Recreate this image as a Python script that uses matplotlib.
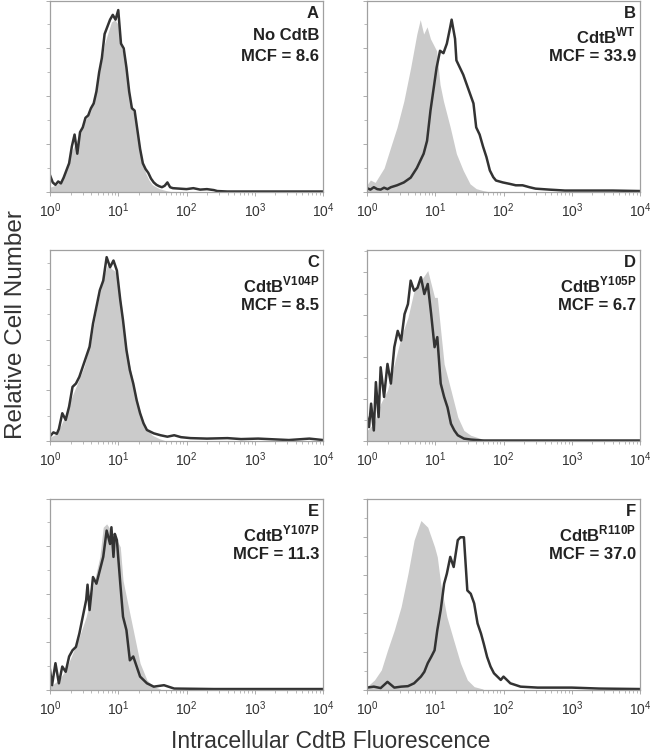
import numpy as np
import matplotlib
matplotlib.use("Agg")
import matplotlib.pyplot as plt
from matplotlib.ticker import FixedLocator, LogLocator, NullFormatter

plt.rcParams['font.family'] = ['Liberation Sans', 'DejaVu Sans']
plt.rcParams['mathtext.fontset'] = 'custom'
plt.rcParams['mathtext.rm'] = 'Liberation Sans'
plt.rcParams['mathtext.bf'] = 'Liberation Sans:bold'

# values are log10(fluorescence) and relative cell number (arbitrary units)
# panel A - No CdtB
a_gray_x = [0.00, 0.10, 0.20, 0.30, 0.40, 0.50, 0.60, 0.70, 0.80, 0.90, 0.95, 1.00, 1.05, 1.10, 1.15, 1.20,
            1.25, 1.30, 1.35, 1.40, 1.45, 1.50, 1.60, 1.70, 1.80]
a_gray_y = [0.10, 0.15, 0.30, 0.80, 1.10, 1.45, 1.70, 2.30, 3.10, 3.55, 3.60, 3.50, 3.00, 2.80, 2.20, 1.75,
            1.55, 1.10, 0.70, 0.40, 0.25, 0.15, 0.07, 0.03, 0.00]
a_black_x = [0.00, 0.04, 0.08, 0.12, 0.16, 0.20, 0.24, 0.28, 0.32, 0.36, 0.40, 0.44, 0.48, 0.52, 0.56, 0.60,
             0.64, 0.68, 0.72, 0.76, 0.80, 0.84, 0.88, 0.92, 0.96, 1.00, 1.04, 1.08, 1.12, 1.16, 1.20, 1.24,
             1.28, 1.32, 1.36, 1.40, 1.44, 1.48, 1.52, 1.56, 1.60, 1.64, 1.68, 1.72, 1.76, 1.80, 1.90, 2.00,
             2.10, 2.20, 2.30, 2.40, 2.45, 2.60, 4.00]
a_black_y = [0.35, 0.20, 0.15, 0.22, 0.18, 0.30, 0.45, 0.60, 0.95, 1.20, 0.80, 1.25, 1.35, 1.55, 1.60, 1.75,
             1.85, 2.10, 2.50, 2.80, 3.30, 3.45, 3.60, 3.70, 3.60, 3.80, 3.10, 3.00, 2.60, 2.10, 1.75, 1.70,
             1.30, 0.90, 0.60, 0.48, 0.40, 0.28, 0.20, 0.15, 0.12, 0.10, 0.13, 0.20, 0.10, 0.08, 0.07, 0.06,
             0.08, 0.05, 0.06, 0.04, 0.02, 0.01, 0.01]

# panel B - CdtB WT
b_gray_x = [0.00, 0.05, 0.12, 0.25, 0.35, 0.44, 0.54, 0.64, 0.73, 0.78, 0.83, 0.88, 0.93, 1.02, 1.07, 1.12,
            1.22, 1.31, 1.41, 1.51, 1.60, 1.70, 1.80]
b_gray_y = [0.15, 0.25, 0.20, 0.50, 0.95, 1.35, 1.90, 2.60, 3.30, 3.60, 3.30, 3.45, 3.20, 2.95, 2.25, 1.90,
            1.35, 0.80, 0.45, 0.17, 0.07, 0.03, 0.00]
b_black_x = [0.00, 0.05, 0.10, 0.15, 0.20, 0.25, 0.30, 0.35, 0.44, 0.54, 0.64, 0.73, 0.83, 0.88, 0.93, 0.98,
             1.02, 1.07, 1.12, 1.17, 1.22, 1.24, 1.29, 1.31, 1.36, 1.41, 1.46, 1.51, 1.56, 1.60, 1.65, 1.70,
             1.75, 1.80, 1.85, 1.89, 1.99, 2.09, 2.18, 2.28, 2.38, 2.47, 2.67, 2.90, 3.60, 4.00]
b_black_y = [0.08, 0.05, 0.10, 0.06, 0.05, 0.09, 0.06, 0.10, 0.14, 0.20, 0.30, 0.50, 0.80, 1.07, 1.70, 2.20,
             2.60, 2.95, 2.90, 3.10, 3.45, 3.60, 3.20, 2.75, 2.60, 2.45, 2.25, 2.05, 1.85, 1.35, 1.20, 0.95,
             0.73, 0.45, 0.31, 0.24, 0.20, 0.17, 0.14, 0.14, 0.10, 0.07, 0.05, 0.03, 0.03, 0.02]

# panel C - CdtB V104P
c_gray_x = [0.00, 0.10, 0.20, 0.30, 0.40, 0.50, 0.60, 0.70, 0.80, 0.85, 0.90, 0.95, 1.00, 1.05, 1.10, 1.15,
            1.20, 1.30, 1.40, 1.50, 1.60, 1.70]
c_gray_y = [0.08, 0.15, 0.45, 0.85, 1.20, 1.55, 2.10, 2.90, 3.50, 3.70, 3.60, 3.55, 3.30, 2.80, 2.15, 1.70,
            1.35, 0.70, 0.28, 0.12, 0.05, 0.00]
c_black_x = [0.00, 0.05, 0.10, 0.13, 0.18, 0.23, 0.28, 0.33, 0.38, 0.43, 0.48, 0.53, 0.58, 0.63, 0.68, 0.73,
             0.78, 0.83, 0.88, 0.93, 0.98, 1.03, 1.07, 1.12, 1.17, 1.22, 1.27, 1.32, 1.37, 1.42, 1.52, 1.62,
             1.72, 1.82, 1.92, 2.06, 2.30, 2.60, 2.80, 3.05, 3.50, 3.80, 4.00]
c_black_y = [0.10, 0.18, 0.15, 0.25, 0.58, 0.44, 0.72, 1.13, 1.20, 1.34, 1.55, 1.76, 1.97, 2.45, 2.80, 3.15,
             3.35, 3.84, 3.63, 3.77, 3.56, 2.94, 2.52, 1.90, 1.48, 1.20, 0.85, 0.58, 0.37, 0.23, 0.16, 0.12,
             0.09, 0.12, 0.08, 0.06, 0.05, 0.06, 0.04, 0.05, 0.02, 0.05, 0.02]

# panel D - CdtB Y105P
d_gray_x = [0.00, 0.10, 0.20, 0.30, 0.40, 0.50, 0.60, 0.69, 0.79, 0.89, 0.99, 1.03, 1.08, 1.13, 1.23, 1.33,
            1.42, 1.52, 1.67, 1.80]
d_gray_y = [0.22, 0.36, 0.78, 1.06, 1.61, 2.17, 2.58, 3.14, 3.35, 3.56, 3.00, 3.00, 2.30, 1.61, 1.06, 0.50,
            0.22, 0.12, 0.05, 0.00]
d_black_x = [0.00, 0.03, 0.06, 0.10, 0.13, 0.17, 0.20, 0.25, 0.30, 0.35, 0.40, 0.45, 0.50, 0.55, 0.60, 0.64,
             0.69, 0.74, 0.79, 0.84, 0.89, 0.94, 0.99, 1.03, 1.08, 1.13, 1.18, 1.23, 1.28, 1.33, 1.42, 1.52,
             1.70, 4.00]
d_black_y = [0.50, 0.29, 0.78, 0.22, 1.23, 0.50, 1.54, 0.92, 1.61, 1.20, 1.96, 2.30, 2.10, 2.65, 2.86, 3.35,
             3.14, 3.20, 3.42, 3.07, 3.28, 2.65, 1.96, 2.17, 1.20, 0.92, 0.70, 0.36, 0.22, 0.12, 0.05, 0.03,
             0.01, 0.01]

# panel E - CdtB Y107P
e_gray_x = [0.00, 0.13, 0.23, 0.33, 0.43, 0.53, 0.63, 0.73, 0.78, 0.83, 0.93, 1.03, 1.07, 1.12, 1.22, 1.32,
            1.42, 1.52, 1.62]
e_gray_y = [0.07, 0.21, 0.42, 0.76, 1.11, 1.53, 2.15, 2.78, 3.40, 3.47, 3.26, 2.99, 2.29, 1.94, 1.25, 0.56,
            0.21, 0.07, 0.02]
e_black_x = [0.00, 0.03, 0.08, 0.13, 0.18, 0.23, 0.28, 0.33, 0.38, 0.43, 0.48, 0.53, 0.55, 0.58, 0.63, 0.68,
             0.73, 0.78, 0.83, 0.88, 0.90, 0.93, 0.95, 0.98, 1.03, 1.07, 1.12, 1.17, 1.22, 1.27, 1.32, 1.37,
             1.42, 1.52, 1.67, 1.82, 2.40, 4.00]
e_black_y = [0.42, 0.10, 0.56, 0.14, 0.49, 0.38, 0.70, 0.83, 0.90, 1.18, 1.53, 1.88, 2.20, 1.67, 2.36, 2.22,
             2.50, 2.78, 3.33, 3.05, 3.40, 2.78, 3.26, 3.13, 2.22, 1.53, 1.25, 0.62, 0.70, 0.49, 0.28, 0.21,
             0.14, 0.07, 0.10, 0.03, 0.02, 0.02]

# panel F - CdtB R110P
f_gray_x = [0.00, 0.11, 0.21, 0.30, 0.40, 0.50, 0.60, 0.69, 0.79, 0.89, 0.99, 1.03, 1.08, 1.17, 1.27, 1.37,
            1.47, 1.57, 1.70]
f_gray_y = [0.07, 0.21, 0.42, 0.83, 1.25, 1.74, 2.43, 3.13, 3.54, 3.40, 2.99, 2.78, 2.22, 1.53, 1.04, 0.56,
            0.21, 0.07, 0.02]
f_black_x = [0.00, 0.10, 0.20, 0.30, 0.40, 0.50, 0.60, 0.69, 0.74, 0.79, 0.84, 0.89, 0.94, 0.99, 1.03, 1.08,
             1.13, 1.17, 1.22, 1.27, 1.33, 1.37, 1.42, 1.47, 1.52, 1.57, 1.62, 1.67, 1.71, 1.76, 1.81, 1.86,
             1.91, 1.96, 2.00, 2.10, 2.25, 2.50, 3.00, 3.40, 4.00]
f_black_y = [0.05, 0.07, 0.04, 0.17, 0.05, 0.07, 0.08, 0.14, 0.21, 0.28, 0.38, 0.56, 0.69, 0.83, 1.25, 1.67,
             2.22, 2.43, 2.78, 2.57, 3.13, 3.19, 3.19, 2.08, 2.01, 1.81, 1.39, 1.18, 0.97, 0.69, 0.49, 0.35,
             0.28, 0.21, 0.28, 0.14, 0.07, 0.05, 0.05, 0.03, 0.02]

letters = ['A', 'B', 'C', 'D', 'E', 'F']
constructs = ['No CdtB', r'CdtB$^{\mathbf{WT}}$', r'CdtB$^{\mathbf{V104P}}$',
              r'CdtB$^{\mathbf{Y105P}}$', r'CdtB$^{\mathbf{Y107P}}$', r'CdtB$^{\mathbf{R110P}}$']
mcf = ['8.6', '33.9', '8.5', '6.7', '11.3', '37.0']
gray_x = [a_gray_x, b_gray_x, c_gray_x, d_gray_x, e_gray_x, f_gray_x]
gray_y = [a_gray_y, b_gray_y, c_gray_y, d_gray_y, e_gray_y, f_gray_y]
black_x = [a_black_x, b_black_x, c_black_x, d_black_x, e_black_x, f_black_x]
black_y = [a_black_y, b_black_y, c_black_y, d_black_y, e_black_y, f_black_y]
ytick_step = [0.5, 0.5, 0.53, 0.44, 0.5, 0.4]

fig = plt.figure(figsize=(6.5, 7.55), dpi=100)
lefts = [50 / 650, 367 / 650]
bottoms = [1 - 192 / 755, 1 - 441 / 755, 1 - 690 / 755]
w = 273 / 650
h = 191.5 / 755

spine_col = '#a0a0a0'
txt_col = '#333333'

for i in range(6):
    r, c = divmod(i, 2)
    ax = fig.add_axes([lefts[c], bottoms[r], w, h])
    gx = 10 ** np.array(gray_x[i])
    bx = 10 ** np.array(black_x[i])
    ax.fill_between(gx, 0, gray_y[i], color='#cbcbcb', lw=0, zorder=1)
    ax.plot(bx, black_y[i], color='#333333', lw=1.8, zorder=2)
    ax.set_xscale('log')
    ax.set_xlim(1, 1e4)
    ax.set_ylim(0, 4)
    for s in ax.spines.values():
        s.set_color(spine_col)
        s.set_linewidth(0.9)
    ax.set_xticks([1, 10, 100, 1000, 10000])
    ax.set_xticklabels([r'$10^0$', r'$10^1$', r'$10^2$', r'$10^3$', r'$10^4$'])
    ax.xaxis.set_minor_locator(LogLocator(base=10, subs=np.arange(2, 10), numticks=20))
    ax.xaxis.set_minor_formatter(NullFormatter())
    st = ytick_step[i]
    ax.yaxis.set_major_locator(FixedLocator(np.arange(0, 4.01, 2 * st)))
    ax.yaxis.set_minor_locator(FixedLocator(np.arange(st, 4.01, 2 * st)))
    ax.set_yticklabels([])
    ax.tick_params(axis='both', which='major', direction='out', length=3, width=0.6,
                   color=spine_col, labelsize=10, labelcolor=txt_col, pad=4)
    ax.tick_params(axis='both', which='minor', direction='out', length=2, width=0.5, color=spine_col)
    ax.text(0.985, 0.93, letters[i], transform=ax.transAxes, ha='right', va='center',
            fontsize=12, fontweight='bold', color='#222222')
    ax.text(0.985, 0.815, constructs[i], transform=ax.transAxes, ha='right', va='center',
            fontsize=12, fontweight='bold', color='#222222')
    ax.text(0.985, 0.705, 'MCF = ' + mcf[i], transform=ax.transAxes, ha='right', va='center',
            fontsize=12, fontweight='bold', color='#222222')

fig.text(0.024, 0.57, 'Relative Cell Number', rotation=90, ha='center', va='center',
         fontsize=17.5, color=txt_col)
fig.text(0.508, 0.018, 'Intracellular CdtB Fluorescence', ha='center', va='center',
         fontsize=16.5, color=txt_col)

fig.savefig('out.png', dpi=100)
